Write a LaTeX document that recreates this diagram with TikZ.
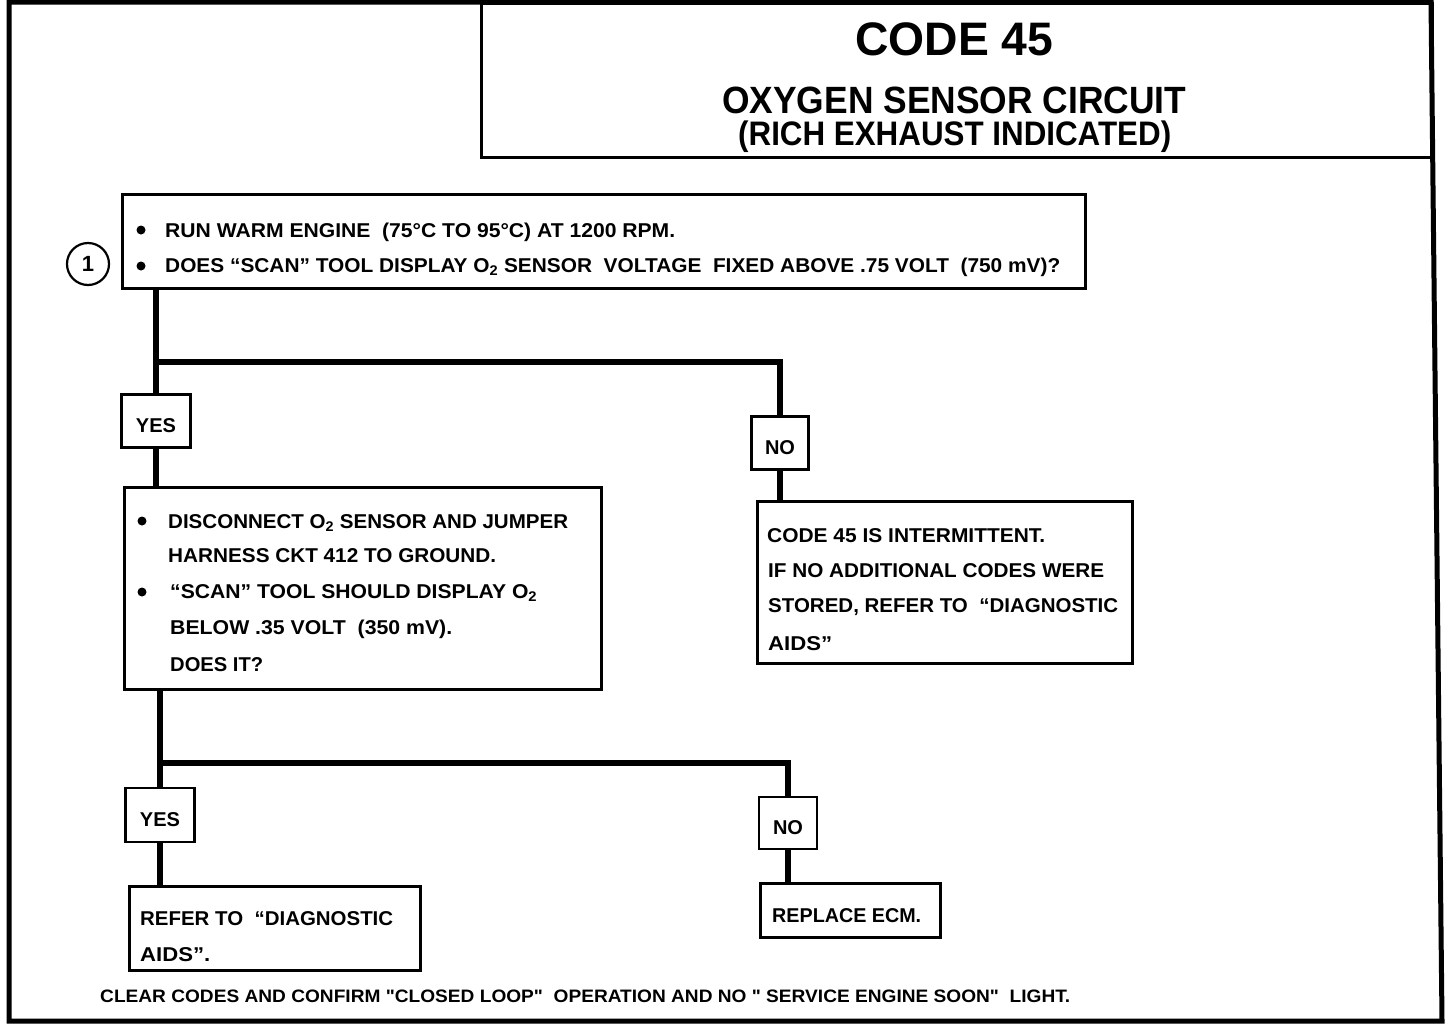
\documentclass[tikz,border=0pt]{standalone}
\usepackage{fontspec}
\setmainfont{Liberation Sans}
\newfontfamily\footfont{Liberation Sans}
\usepackage{graphicx}
\newcommand\fitline[2]{\resizebox{#1pt}{\height}{#2}}
\newcommand\lowered[1]{\raisebox{-5pt}[\height][0pt]{#1}}
\begin{document}
\begin{tikzpicture}[x=1pt,y=-1pt,
  box/.style={draw, line width=2.6pt, anchor=north west, inner sep=0pt},
  lbl/.style={draw, line width=2.6pt, anchor=center, inner sep=0pt, font=\fontsize{20}{24}\selectfont\bfseries},
  conn/.style={line width=6pt},
  txt/.style={anchor=base west, inner sep=0pt, font=\fontsize{20}{24}\selectfont\bfseries},
  bullet/.style={fill=black}
]
\useasboundingbox (0,0) rectangle (1456,1028);

% outer frame
\draw[line width=5pt, line join=miter] (9,2) -- (1431,2) -- (1442,1021) -- (9,1021) -- cycle;

% title box
\node[box, line width=3pt, minimum width=951pt, minimum height=154pt] (title) at (480,2) {};
\node[anchor=base west, inner sep=0pt] (t1) at (855,55) {\fitline{198}{\fontsize{47}{50}\selectfont\bfseries CODE 45}};
\node[anchor=base west, inner sep=0pt] (t2) at (722,113) {\fitline{464}{\fontsize{38}{40}\selectfont\bfseries OXYGEN SENSOR CIRCUIT}};
\node[anchor=base west, inner sep=0pt] (t3) at (738,145) {\fitline{433}{\fontsize{34}{36}\selectfont\bfseries (RICH EXHAUST INDICATED)}};

% step 1
\node[draw, circle, line width=2.2pt, minimum size=42pt, inner sep=0pt, font=\fontsize{22}{22}\selectfont\bfseries] (c1) at (88,264) {1};
\node[box, minimum width=963pt, minimum height=94pt] (b1) at (121,193) {};
\fill[bullet] (141,230) circle (4.5pt);
\fill[bullet] (141,266) circle (4.5pt);
\node[txt] (b1l1) at (165,237) {\fitline{510}{RUN WARM ENGINE\ \ (75°C TO 95°C) AT 1200 RPM.}};
\node[txt] (b1l2) at (165,272) {\fitline{895}{DOES “SCAN” TOOL DISPLAY O\textsubscript{2} SENSOR\ \ VOLTAGE\ \ FIXED ABOVE .75 VOLT\ \ (750 mV)?}};

% answers 1
\node[lbl, minimum width=69pt, minimum height=53pt] (y1) at (156,421) {\lowered{YES}};
\node[lbl, minimum width=57pt, minimum height=53pt] (n1) at (780,443) {\lowered{NO}};
\coordinate (j1) at (0,362);

% step 2
\node[box, minimum width=477pt, minimum height=202pt] (b2) at (123,486) {};
\fill[bullet] (142,521) circle (4.5pt);
\fill[bullet] (142,592) circle (4.5pt);
\node[txt] (b2l1) at (168,528) {\fitline{400}{DISCONNECT O\textsubscript{2} SENSOR AND JUMPER}};
\node[txt] (b2l2) at (168,562) {\fitline{328}{HARNESS CKT 412 TO GROUND.}};
\node[txt] (b2l3) at (170,598) {\fitline{367}{“SCAN” TOOL SHOULD DISPLAY O\textsubscript{2}}};
\node[txt] (b2l4) at (170,634) {\fitline{282}{BELOW .35 VOLT\ \ (350 mV).}};
\node[txt] (b2l5) at (170,671) {\fitline{93}{DOES IT?}};

% result: intermittent
\node[box, minimum width=375pt, minimum height=162pt] (b3) at (756,500) {};
\node[txt] (b3l1) at (767,542) {\fitline{278}{CODE 45 IS INTERMITTENT.}};
\node[txt] (b3l2) at (768,577) {\fitline{336}{IF NO ADDITIONAL CODES WERE}};
\node[txt] (b3l3) at (768,612) {\fitline{350}{STORED, REFER TO\ \ “DIAGNOSTIC}};
\node[txt] (b3l4) at (768,650) {\fitline{64}{AIDS”}};

% answers 2
\node[lbl, minimum width=69pt, minimum height=54pt] (y2) at (160,815) {\lowered{YES}};
\node[lbl, minimum width=58pt, minimum height=52pt] (n2) at (788,823) {\lowered{NO}};
\coordinate (j2) at (0,763);

% results
\node[box, minimum width=291pt, minimum height=84pt] (b4) at (128,885) {};
\node[txt] (b4l1) at (140,925) {\fitline{253}{REFER TO\ \ “DIAGNOSTIC}};
\node[txt] (b4l2) at (140,961) {\fitline{70}{AIDS”.}};
\node[box, minimum width=180pt, minimum height=54pt] (b5) at (759,882) {};
\node[txt] (b5l1) at (772,922) {\fitline{149}{REPLACE ECM.}};

% footer
\node[anchor=base west, inner sep=0pt] (foot) at (100,1002) {\fitline{970}{\footfont\fontsize{18}{20}\selectfont\bfseries CLEAR CODES AND CONFIRM "CLOSED LOOP"\ \ OPERATION AND NO "\ SERVICE ENGINE SOON"\ \ LIGHT.}};

% connectors
\draw[conn] (y1.north |- b1.south) -- (y1.north);
\draw[conn] (y1.north |- j1) -| (n1.north);
\draw[conn] (y1.south) -- (y1.south |- b2.north);
\draw[conn] (n1.south) -- (n1.south |- b3.north);
\draw[conn] (y2.north |- b2.south) -- (y2.north);
\draw[conn] (y2.north |- j2) -| (n2.north);
\draw[conn] (y2.south) -- (y2.south |- b4.north);
\draw[conn] (n2.south) -- (n2.south |- b5.north);
\end{tikzpicture}
\end{document}
